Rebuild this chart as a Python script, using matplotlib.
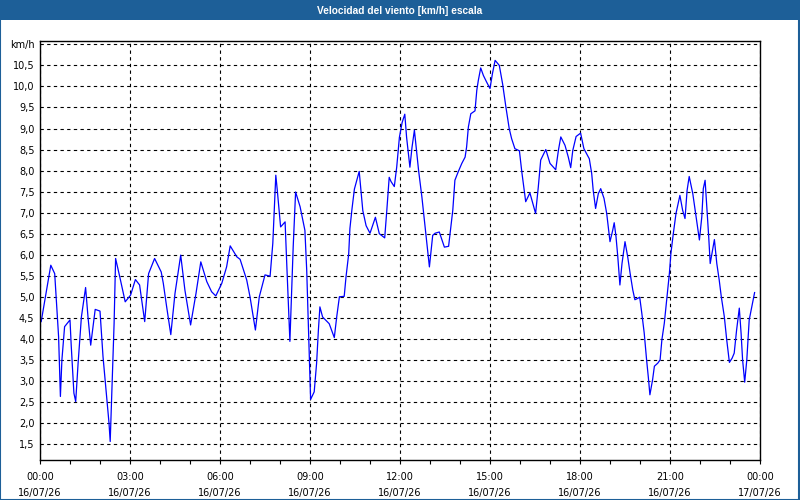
import numpy as np
import matplotlib
matplotlib.use("Agg")
import matplotlib.pyplot as plt
from matplotlib.patches import Rectangle

# Datos: (hora del dia, velocidad km/h), por tramos
tramo_00_04 = [(0.04, 4.41), (0.36, 5.75), (0.49, 5.55), (0.62, 4.05), (0.68, 2.63),
               (0.73, 3.5), (0.82, 4.29), (1.0, 4.45), (1.04, 3.85), (1.13, 2.71),
               (1.19, 2.51), (1.27, 3.42), (1.38, 4.52), (1.52, 5.22), (1.6, 4.52),
               (1.69, 3.85), (1.84, 4.7), (2.0, 4.66), (2.1, 3.58), (2.23, 2.55),
               (2.3, 2.0), (2.34, 1.56), (2.4, 2.87), (2.47, 4.37), (2.52, 5.91),
               (2.66, 5.47), (2.84, 4.88), (3.02, 5.04), (3.18, 5.41), (3.32, 5.28),
               (3.49, 4.41), (3.62, 5.55), (3.82, 5.91), (4.04, 5.59)]
tramo_04_09 = [(4.11, 5.32), (4.22, 4.77), (4.36, 4.1), (4.5, 5.08), (4.69, 5.99),
               (4.83, 5.16), (5.02, 4.33), (5.2, 5.08), (5.36, 5.83), (5.56, 5.36),
               (5.72, 5.12), (5.86, 5.02), (6.06, 5.32), (6.22, 5.71), (6.34, 6.21),
               (6.56, 5.95), (6.67, 5.89), (6.89, 5.4), (7.0, 5.0), (7.18, 4.21),
               (7.31, 5.0), (7.5, 5.52), (7.67, 5.49), (7.76, 6.27), (7.86, 7.89),
               (7.91, 7.53), (8.02, 6.66), (8.17, 6.78), (8.22, 5.87), (8.33, 3.94),
               (8.44, 6.19), (8.52, 7.49), (8.67, 7.14), (8.83, 6.58), (8.89, 5.64),
               (8.97, 3.74), (9.02, 2.56)]
tramo_09_14 = [(9.14, 2.74), (9.22, 3.42), (9.28, 4.21), (9.33, 4.76), (9.42, 4.52),
               (9.53, 4.44), (9.64, 4.36), (9.81, 4.03), (9.89, 4.52), (9.98, 5.0),
               (10.14, 5.01), (10.2, 5.47), (10.29, 6.02), (10.33, 6.62), (10.4, 7.09),
               (10.48, 7.56), (10.64, 7.98), (10.76, 7.05), (10.87, 6.69), (11.0, 6.51),
               (11.18, 6.89), (11.31, 6.5), (11.49, 6.4), (11.56, 7.05), (11.64, 7.84),
               (11.7, 7.74), (11.81, 7.62), (11.89, 8.08), (11.98, 8.79), (12.07, 9.14),
               (12.16, 9.34), (12.22, 8.79), (12.33, 8.08), (12.4, 8.55), (12.48, 8.96),
               (12.62, 8.0), (12.73, 7.37), (12.84, 6.65), (12.98, 5.71), (13.09, 6.46),
               (13.17, 6.51), (13.31, 6.54), (13.48, 6.18), (13.62, 6.2)]
tramo_14_19 = [(13.76, 7.06), (13.83, 7.77), (13.94, 7.97), (14.06, 8.17), (14.17, 8.32),
               (14.22, 8.56), (14.28, 9.04), (14.36, 9.35), (14.5, 9.42), (14.56, 9.91),
               (14.61, 10.14), (14.69, 10.44), (14.78, 10.26), (14.89, 10.1), (15.0, 9.95),
               (15.08, 10.3), (15.17, 10.62), (15.31, 10.5), (15.42, 10.06), (15.53, 9.51),
               (15.64, 9.0), (15.72, 8.76), (15.83, 8.52), (15.98, 8.47), (16.06, 7.97),
               (16.11, 7.69), (16.19, 7.26), (16.33, 7.47), (16.52, 6.98), (16.61, 7.61),
               (16.69, 8.25), (16.86, 8.5), (17.0, 8.17), (17.19, 8.02), (17.28, 8.48),
               (17.36, 8.8), (17.5, 8.6), (17.61, 8.32), (17.69, 8.07), (17.76, 8.48),
               (17.87, 8.81), (18.02, 8.89), (18.13, 8.52), (18.31, 8.28), (18.39, 7.93),
               (18.44, 7.53), (18.52, 7.1), (18.61, 7.45), (18.69, 7.57), (18.8, 7.34),
               (18.89, 6.98)]
tramo_19_24 = [(19.0, 6.31), (19.09, 6.58), (19.14, 6.76), (19.2, 6.43), (19.26, 5.95),
               (19.33, 5.28), (19.4, 5.79), (19.5, 6.31), (19.59, 5.95), (19.67, 5.56),
               (19.76, 5.16), (19.83, 4.93), (19.92, 4.96), (19.99, 4.99), (20.06, 4.61),
               (20.14, 4.14), (20.22, 3.5), (20.28, 3.07), (20.33, 2.67), (20.42, 3.03),
               (20.48, 3.35), (20.59, 3.42), (20.67, 3.5), (20.73, 3.98), (20.81, 4.37),
               (20.89, 4.93), (20.98, 5.56), (21.03, 6.03), (21.11, 6.5), (21.2, 6.98),
               (21.28, 7.25), (21.33, 7.41), (21.42, 7.06), (21.5, 6.86), (21.57, 7.53),
               (21.64, 7.86), (21.76, 7.45), (21.87, 6.9), (21.98, 6.35), (22.06, 6.9),
               (22.11, 7.57), (22.17, 7.77), (22.22, 7.22), (22.29, 6.43), (22.34, 5.79),
               (22.4, 6.03), (22.48, 6.36), (22.56, 5.79), (22.64, 5.4), (22.71, 5.0),
               (22.81, 4.53), (22.89, 3.98), (22.98, 3.44), (23.07, 3.54), (23.14, 3.66),
               (23.22, 4.21), (23.31, 4.73), (23.37, 4.13), (23.42, 3.5), (23.49, 2.97),
               (23.56, 3.5), (23.64, 4.45), (23.73, 4.77), (23.82, 5.1)]

horas_ticks = [0, 3, 6, 9, 12, 15, 18, 21, 24]
etiquetas_x = ["00:00\n16/07/26", "03:00\n16/07/26", "06:00\n16/07/26", "09:00\n16/07/26",
               "12:00\n16/07/26", "15:00\n16/07/26", "18:00\n16/07/26", "21:00\n16/07/26",
               "00:00\n17/07/26"]
valores_y = [1.5, 2.0, 2.5, 3.0, 3.5, 4.0, 4.5, 5.0, 5.5, 6.0, 6.5, 7.0, 7.5, 8.0, 8.5,
             9.0, 9.5, 10.0, 10.5, 11.0]

AZUL_BARRA = "#1d5f98"

serie = tramo_00_04 + tramo_04_09 + tramo_09_14 + tramo_14_19 + tramo_19_24
horas = np.array([p[0] for p in serie])
velocidad = np.array([p[1] for p in serie])

fig = plt.figure(figsize=(8, 5), dpi=100)
fig.patch.set_facecolor("white")

# barra de titulo y marco
fig.add_artist(Rectangle((0, 0.96), 1, 0.04, transform=fig.transFigure,
                         facecolor=AZUL_BARRA, edgecolor="none"))
fig.add_artist(Rectangle((0.0006, 0.001), 0.9982, 0.998, transform=fig.transFigure,
                         facecolor="none", edgecolor=AZUL_BARRA, linewidth=1.5))
fig.text(0.5, 0.979, "Velocidad del viento [km/h] escala", color="white",
         fontsize=7.3, fontweight="bold", family="Liberation Sans",
         ha="center", va="center")

ax = fig.add_axes([40 / 800, 40 / 500, 720 / 800, 419 / 500])
ax.plot(horas, velocidad, color="#0000ff", linewidth=0.9)

ax.set_xlim(0, 24)
ax.set_ylim(1.12, 11.08)

ax.set_xticks(horas_ticks)
ax.set_xticklabels(etiquetas_x, fontsize=7, linespacing=1.7)
ax.set_xticks(range(0, 25), minor=True)
ax.tick_params(axis="x", which="both", direction="out", length=3, width=0.8, pad=6)

ax.set_yticks(valores_y)
etiq_y = [f"{v:.1f}".replace(".", ",") for v in valores_y]
etiq_y[-1] = "km/h"
ax.set_yticklabels(etiq_y, fontsize=7)
ax.tick_params(axis="y", length=0, pad=4)

ax.grid(True, which="major", color="black", linestyle=(0, (3, 3)), linewidth=0.8)
for s in ax.spines.values():
    s.set_linewidth(1.0)

fig.savefig("out.png", dpi=100)
